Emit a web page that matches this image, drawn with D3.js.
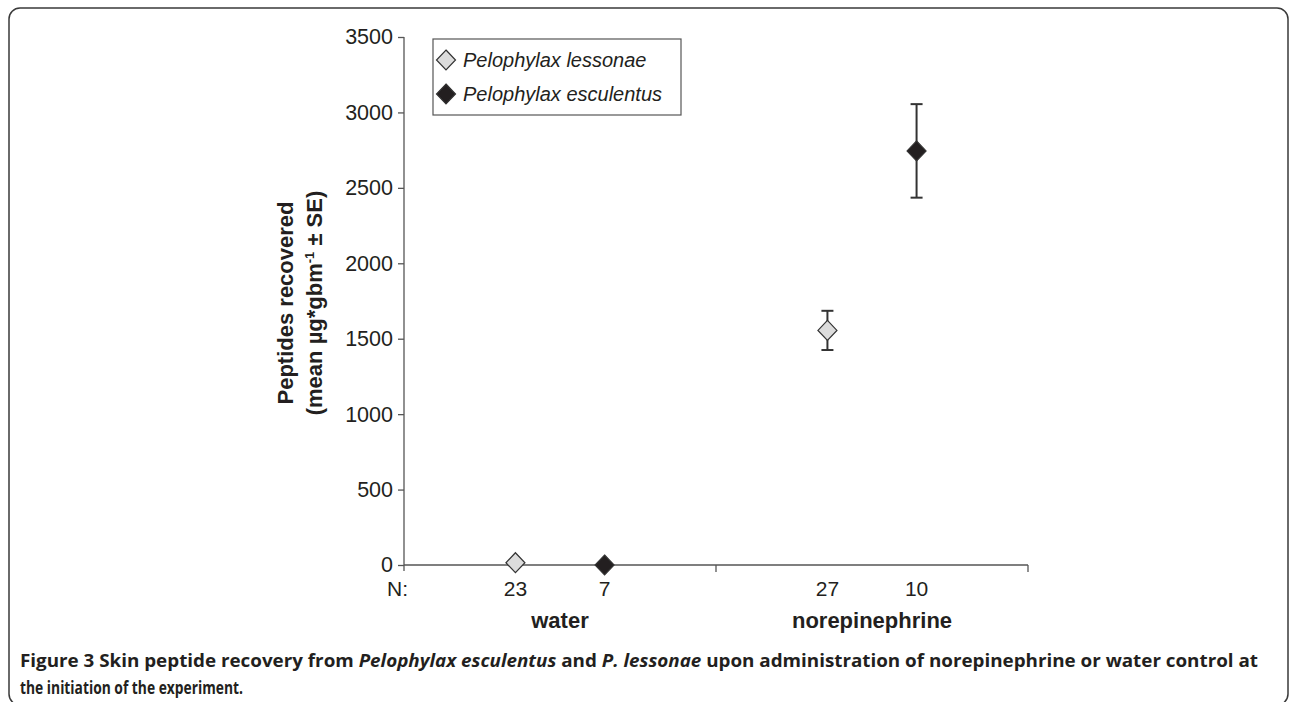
<!DOCTYPE html>
<html>
<head>
<meta charset="utf-8">
<script src="https://cdn.jsdelivr.net/npm/d3@7"></script>
<style>
  body { margin: 0; background: #fff; }
  text { font-family: "Liberation Sans", Arial, sans-serif; fill: #231f20; }
</style>
</head>
<body>
<div id="chart"></div>
<script>
var treatments = ["water", "norepinephrine"];
var species = ["Pelophylax lessonae", "Pelophylax esculentus"];
var means = [[15, 0], [1555, 2745]];   // [treatment][species]
var ses = [[0, 0], [130, 310]];
var counts = [["23", "7"], ["27", "10"]];
var yTicks = [0, 500, 1000, 1500, 2000, 2500, 3000, 3500];
var fills = ["#dcdcdc", "#231f20"];

function main() {
    var W = 1290, H = 702;
    var margin = { top: 37, left: 404, right: 262, bottom: 137 };

    var svg = d3.select("#chart")
        .append("svg")
        .attr("width", W)
        .attr("height", H);

    // frame
    svg.append("rect")
        .attr("x", 9).attr("y", 8)
        .attr("width", 1279).attr("height", 697)
        .attr("rx", 11)
        .attr("fill", "none")
        .attr("stroke", "#3a3a3a")
        .attr("stroke-width", 1.5)

    var y = d3.scaleLinear()
        .domain([0, 3500])
        .range([H - margin.bottom, margin.top])
    var x = d3.scaleBand()
        .domain(treatments)
        .range([margin.left, W - margin.right])
        .padding(0)
    var xs = d3.scalePoint()
        .domain(species)
        .range([0, x.bandwidth()])
        .padding(1.25)

    var y0 = y(0);

    // y axis
    var gy = svg.append("g")
        .attr("transform", "translate(" + margin.left + ",0)")
        .call(d3.axisLeft(y).tickValues(yTicks).tickSize(6).tickPadding(5).tickFormat(d3.format("d")))
    gy.select(".domain").attr("d", "M0," + y(3500) + "V" + (y0 + 6))
    gy.selectAll("line, path").attr("stroke", "#555").attr("stroke-width", 1.3)
    gy.selectAll("text")
        .style("font-family", "Liberation Sans, Arial, sans-serif")
        .style("font-size", "21.5px")
        .attr("fill", "#231f20")

    // x axis line with category boundary ticks
    svg.append("line")
        .attr("x1", margin.left).attr("x2", W - margin.right)
        .attr("y1", y0).attr("y2", y0)
        .attr("stroke", "#555").attr("stroke-width", 1.3)
    svg.selectAll(".bound")
        .data(treatments)
        .enter()
        .append("line")
        .attr("x1", d => x(d) + x.bandwidth()).attr("x2", d => x(d) + x.bandwidth())
        .attr("y1", y0).attr("y2", y0 + 7)
        .attr("stroke", "#555").attr("stroke-width", 1.3)

    // N labels
    svg.append("text")
        .attr("x", 408).attr("y", y0 + 31)
        .attr("text-anchor", "end")
        .style("font-size", "21px")
        .text("N:")

    var points = [];
    treatments.forEach((t, i) => {
        species.forEach((s, j) => {
            points.push({ t: t, s: s, j: j, mean: means[i][j], se: ses[i][j], n: counts[i][j] });
        })
    })

    svg.selectAll(".nlab")
        .data(points)
        .enter()
        .append("text")
        .attr("x", d => x(d.t) + xs(d.s))
        .attr("y", y0 + 31)
        .attr("text-anchor", "middle")
        .style("font-size", "21px")
        .text(d => d.n)

    // category labels
    svg.selectAll(".cat")
        .data(treatments)
        .enter()
        .append("text")
        .attr("x", d => x(d) + x.bandwidth() / 2)
        .attr("y", y0 + 63)
        .attr("text-anchor", "middle")
        .style("font-size", "22px")
        .style("font-weight", "bold")
        .text(d => d)

    // y title
    var title = svg.append("text")
        .attr("transform", "translate(293," + 303 + ") rotate(-90)")
        .attr("text-anchor", "middle")
        .style("font-size", "22px")
        .style("font-weight", "bold")
    title.append("tspan").attr("x", 0).attr("dy", 0).text("Peptides recovered")
    title.append("tspan").attr("x", 0).attr("dy", 29).text("(mean µg*gbm")
    title.append("tspan").attr("dy", -8).style("font-size", "13px").text("-1")
    title.append("tspan").attr("dy", 8).text(" ± SE)")

    // error bars
    var eb = svg.selectAll(".eb")
        .data(points.filter(d => d.se > 0))
        .enter()
        .append("g")
        .attr("stroke", "#333")
        .attr("stroke-width", 2)
    eb.append("line")
        .attr("x1", d => x(d.t) + xs(d.s)).attr("x2", d => x(d.t) + xs(d.s))
        .attr("y1", d => y(d.mean + d.se)).attr("y2", d => y(d.mean - d.se))
    eb.append("line")
        .attr("x1", d => x(d.t) + xs(d.s) - 6).attr("x2", d => x(d.t) + xs(d.s) + 6)
        .attr("y1", d => y(d.mean + d.se)).attr("y2", d => y(d.mean + d.se))
    eb.append("line")
        .attr("x1", d => x(d.t) + xs(d.s) - 6).attr("x2", d => x(d.t) + xs(d.s) + 6)
        .attr("y1", d => y(d.mean - d.se)).attr("y2", d => y(d.mean - d.se))

    var diamond = "M0,-10L9.5,0L0,10L-9.5,0Z";

    svg.selectAll(".pt")
        .data(points)
        .enter()
        .append("path")
        .attr("d", diamond)
        .attr("transform", d => "translate(" + (x(d.t) + xs(d.s)) + "," + y(d.mean) + ")")
        .attr("fill", d => fills[d.j])
        .attr("stroke", "#333")
        .attr("stroke-width", 1.2)

    // legend
    var leg = svg.append("g").attr("transform", "translate(433,39)")
    leg.append("rect")
        .attr("width", 248).attr("height", 76)
        .attr("fill", "#fff")
        .attr("stroke", "#555")
        .attr("stroke-width", 1.2)
    species.forEach((s, j) => {
        var row = leg.append("g").attr("transform", "translate(13," + (21 + j * 34) + ")")
        row.append("path").attr("d", diamond)
            .attr("fill", fills[j]).attr("stroke", "#333").attr("stroke-width", 1.2)
        row.append("text")
            .attr("x", 17).attr("y", 7)
            .style("font-size", "20px")
            .style("font-style", "italic")
            .text(s)
    })

    // caption
    var cap1 = svg.append("text")
        .attr("x", 20).attr("y", 667)
        .attr("textLength", 1238).attr("lengthAdjust", "spacingAndGlyphs")
        .style("font-family", "Open Sans, sans-serif")
        .style("font-size", "18px")
        .style("font-weight", "bold")
    cap1.append("tspan").text("Figure 3 ")
    cap1.append("tspan").text("Skin peptide recovery from ")
    cap1.append("tspan").style("font-style", "italic").text("Pelophylax esculentus")
    cap1.append("tspan").text(" and ")
    cap1.append("tspan").style("font-style", "italic").text("P. lessonae")
    cap1.append("tspan").text(" upon administration of norepinephrine or water control at")

    svg.append("text")
        .attr("x", 20).attr("y", 694)
        .attr("textLength", 223).attr("lengthAdjust", "spacingAndGlyphs")
        .style("font-family", "Open Sans, sans-serif")
        .style("font-size", "18px")
        .style("font-weight", "bold")
        .text("the initiation of the experiment.")
}

main();
</script>
</body>
</html>
